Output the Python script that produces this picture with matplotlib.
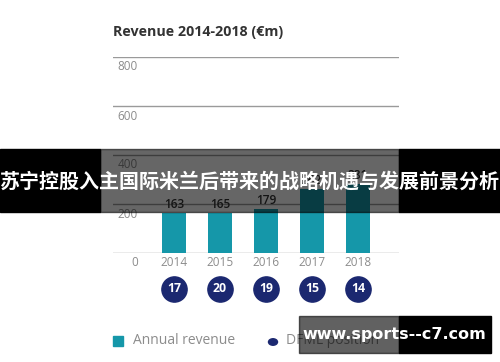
import matplotlib
matplotlib.use("Agg")
import matplotlib.pyplot as plt
from matplotlib.patches import Rectangle, Circle
from matplotlib.transforms import blended_transform_factory

years = ["2014", "2015", "2016", "2017", "2018"]
revenue = [163, 165, 179, 262, 281]
dfml_position = [17, 20, 19, 15, 14]
y_ticks = [0, 200, 400, 600, 800]

TEAL = "#1597a9"
NAVY = "#1b2870"
GRAY = "#8c8c8c"
DARK = "#333333"

W, H = 500, 362
plt.rcParams["font.family"] = ["Open Sans", "DejaVu Sans"]

fig = plt.figure(figsize=(W / 100, H / 100), dpi=100)


def fx(x):
    return x / W


def fy(y):
    return 1 - y / H


# axes placed by pixel: x 113..399, y 57 (800) .. 253 (0)
ax = fig.add_axes([fx(113), fy(253), fx(399) - fx(113), fy(57) - fy(253)])
ax.set_ylim(0, 800)
ax.set_xlim((113 - 174) / 46, (399 - 174) / 46)
ax.axis("off")

xs = list(range(len(years)))
ax.bar(xs, revenue, width=0.54, color=TEAL, zorder=2)

for v in y_ticks:
    ax.axhline(v, color="#9a9a9a", lw=1, zorder=1)
    ax.annotate(str(v), xy=(0.087, v), xycoords=("axes fraction", "data"),
                xytext=(0, -10), textcoords="offset pixels",
                ha="right", va="center", fontsize=8.5, color=GRAY)

for x, r, y in zip(xs, revenue, years):
    ax.annotate(str(r), xy=(x, r), xytext=(0, 2), textcoords="offset pixels",
                ha="center", va="bottom", fontsize=8.6, color=DARK,
                fontweight="semibold")
    ax.annotate(y, xy=(x, 0), xytext=(0, -10), textcoords="offset pixels",
                ha="center", va="center", fontsize=8.5, color=GRAY)

trans = blended_transform_factory(ax.transData, ax.transAxes)
circ_y = -36 / 196
ax.scatter(xs, [circ_y] * len(xs), s=330, color=NAVY, transform=trans,
           clip_on=False, zorder=3)
for x, p in zip(xs, dfml_position):
    ax.text(x, circ_y, str(p), transform=trans, ha="center", va="center",
            fontsize=8.8, color="white", fontweight="bold", zorder=4)

fig.text(fx(113), fy(32), "Revenue 2014-2018 (€m)", ha="left", va="center",
         fontsize=10.3, color=DARK, fontweight="bold")

# legend
fig.add_artist(Rectangle((fx(113), fy(346)), fx(10), 10 / H,
                         transform=fig.transFigure, color=TEAL))
fig.text(fx(133), fy(341), "Annual revenue", ha="left", va="center",
         fontsize=10, color=GRAY)
fig.add_artist(Circle((fx(273), fy(342)), 4.5 / W, transform=fig.transFigure,
                      color=NAVY))
fig.text(fx(286), fy(341), "DFML position", ha="left", va="center",
         fontsize=10, color=GRAY)

# headline banner across the middle
fig.add_artist(Rectangle((0, fy(212)), fx(100), (212 - 149) / H,
                         transform=fig.transFigure, color="black", zorder=10))
fig.add_artist(Rectangle((fx(399), fy(212)), fx(101), (212 - 149) / H,
                         transform=fig.transFigure, color="black", zorder=10))
fig.add_artist(Rectangle((fx(100), fy(212)), fx(299), (212 - 149) / H,
                         transform=fig.transFigure, color="black", alpha=0.6,
                         zorder=10))
fig.text(0.5, fy(181), "苏宁控股入主国际米兰后带来的战略机遇与发展前景分析",
         ha="center", va="center", fontsize=14.4, color="white",
         fontweight="bold", family=["Noto Sans CJK SC", "DejaVu Sans"],
         zorder=11)

# watermark box
fig.add_artist(Rectangle((fx(299), fy(353)), fx(100), 37 / H,
                         transform=fig.transFigure, color="black", alpha=0.62,
                         zorder=10))
fig.add_artist(Rectangle((fx(399), fy(353)), fx(92), 37 / H,
                         transform=fig.transFigure, color="black", zorder=10))
fig.text(fx(394), fy(335), "www.sports--c7.com", ha="center", va="center",
         fontsize=11.5, color="white", fontweight="bold",
         family=["DejaVu Sans"], zorder=11)

fig.savefig("out.png", dpi=100)
